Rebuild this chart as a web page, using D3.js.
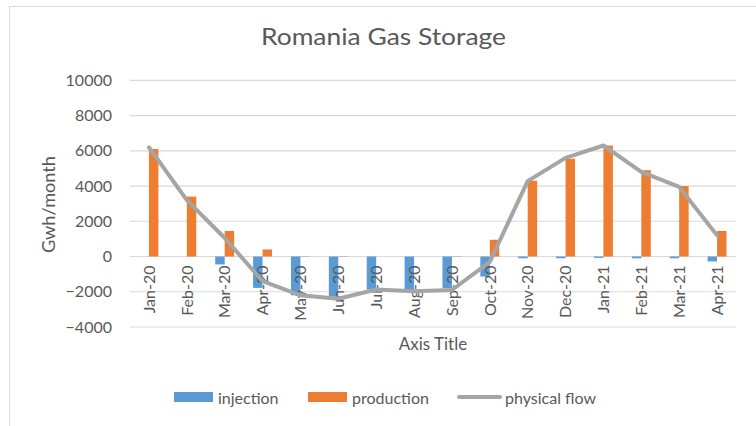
<!DOCTYPE html>
<html>
<head>
<meta charset="utf-8">
<script src="https://cdnjs.cloudflare.com/ajax/libs/d3/7.8.5/d3.min.js"></script>
<style>
  body { margin: 0; background: #fff; }
  text { font-family: Lato, "Open Sans", sans-serif; fill: #595959; }
</style>
</head>
<body>
<script>
// data
var months = ["Jan-20", "Feb-20", "Mar-20", "Apr-20", "May-20", "Jun-20", "Jul-20", "Aug-20",
              "Sep-20", "Oct-20", "Nov-20", "Dec-20", "Jan-21", "Feb-21", "Mar-21", "Apr-21"];
var injection = [0, 0, -450, -1780, -2200, -2280, -1860, -1900,
                 -1800, -1140, -100, -100, -80, -100, -100, -280];
var production = [6100, 3400, 1450, 400, 20, 20, 0, 0,
                  20, 950, 4300, 5550, 6300, 4900, 4000, 1450];
var physicalFlow = [6200, 3200, 1050, -1400, -2200, -2400, -1870, -1970,
                    -1900, -300, 4280, 5600, 6300, 4800, 3950, 1200];
var yTicks = [-4000, -2000, 0, 2000, 4000, 6000, 8000, 10000];

var w = 756, h = 426;
var plotLeft = 130, plotRight = 736, plotTop = 80.3, plotBottom = 327;

var svg = d3.select("body").append("svg")
  .attr("width", w).attr("height", h);

// chart frame
svg.append("rect")
  .attr("x", 9.5).attr("y", 6.5)
  .attr("width", 800).attr("height", 500)
  .attr("fill", "none").attr("stroke", "#d9d9d9");

var x = d3.scaleBand().domain(months).range([plotLeft, plotRight]);
var xs = d3.scaleBand().domain(["injection", "production"])
  .range([x.bandwidth() * 0.25, x.bandwidth() * 0.75]);
var y = d3.scaleLinear().domain([-4000, 10000]).range([plotBottom, plotTop]);

// gridlines
svg.append("g").selectAll("line")
  .data(yTicks).enter().append("line")
  .attr("x1", plotLeft).attr("x2", plotRight)
  .attr("y1", function(d) { return y(d); })
  .attr("y2", function(d) { return y(d); })
  .attr("stroke", "#d9d9d9").attr("stroke-width", 1.2);

// y axis labels
var yAxis = d3.axisLeft(y).tickValues(yTicks).tickSize(0).tickPadding(0)
  .tickFormat(d3.format("d"));
var gy = svg.append("g").attr("transform", "translate(112,0)").call(yAxis);
gy.select(".domain").remove();
gy.selectAll("text").style("font-size", "16px").style("fill", "#595959")
  .style("font-family", "Lato, sans-serif");

// bars
var rows = months.map(function(m, i) {
  return { m: m, injection: injection[i], production: production[i] };
});
var colors = { injection: "#5B9BD5", production: "#ED7D31" };
["injection", "production"].forEach(function(k) {
  svg.append("g").selectAll("rect")
    .data(rows).enter().append("rect")
    .attr("x", function(d) { return x(d.m) + xs(k); })
    .attr("width", xs.bandwidth())
    .attr("y", function(d) { return y(Math.max(0, d[k])); })
    .attr("height", function(d) { return Math.abs(y(d[k]) - y(0)); })
    .attr("fill", colors[k]);
});

// category labels (rotated)
var xAxis = d3.axisBottom(x).tickSize(0).tickPadding(0);
var gx = svg.append("g").attr("transform", "translate(0," + (y(0) + 9) + ")").call(xAxis);
gx.select(".domain").remove();
gx.selectAll("text")
  .attr("transform", "rotate(-90)")
  .attr("x", 0).attr("y", 0).attr("dy", "0.36em")
  .style("text-anchor", "end")
  .style("font-size", "16px").style("fill", "#595959")
  .style("font-family", "Lato, sans-serif");

// physical flow line
var line = d3.line()
  .x(function(d, i) { return x(months[i]) + x.bandwidth() / 2; })
  .y(function(d) { return y(d); });
svg.append("path").datum(physicalFlow)
  .attr("d", line)
  .attr("fill", "none").attr("stroke", "#A5A5A5")
  .attr("stroke-width", 4).attr("stroke-linejoin", "round").attr("stroke-linecap", "round");

// titles
svg.append("text").attr("x", 261).attr("y", 45)
  .attr("textLength", 245).attr("lengthAdjust", "spacingAndGlyphs")
  .style("font-size", "24px").text("Romania Gas Storage");
svg.append("text").attr("transform", "translate(55,253) rotate(-90)")
  .attr("textLength", 97).attr("lengthAdjust", "spacingAndGlyphs")
  .style("font-size", "17px").text("Gwh/month");
svg.append("text").attr("x", 433).attr("y", 350).attr("text-anchor", "middle")
  .style("font-size", "17px").text("Axis Title");

// legend
var legend = svg.append("g").attr("transform", "translate(0,397)");
legend.append("rect").attr("x", 174).attr("y", -5).attr("width", 39).attr("height", 10).attr("fill", colors.injection);
legend.append("text").attr("x", 218).attr("y", 7).style("font-size", "16px").text("injection");
legend.append("rect").attr("x", 308).attr("y", -5).attr("width", 39).attr("height", 10).attr("fill", colors.production);
legend.append("text").attr("x", 352).attr("y", 7).style("font-size", "16px").text("production");
legend.append("line").attr("x1", 459).attr("x2", 500).attr("y1", 0).attr("y2", 0)
  .attr("stroke", "#A5A5A5").attr("stroke-width", 4).attr("stroke-linecap", "round");
legend.append("text").attr("x", 505).attr("y", 7).style("font-size", "16px").text("physical flow");
</script>
</body>
</html>
